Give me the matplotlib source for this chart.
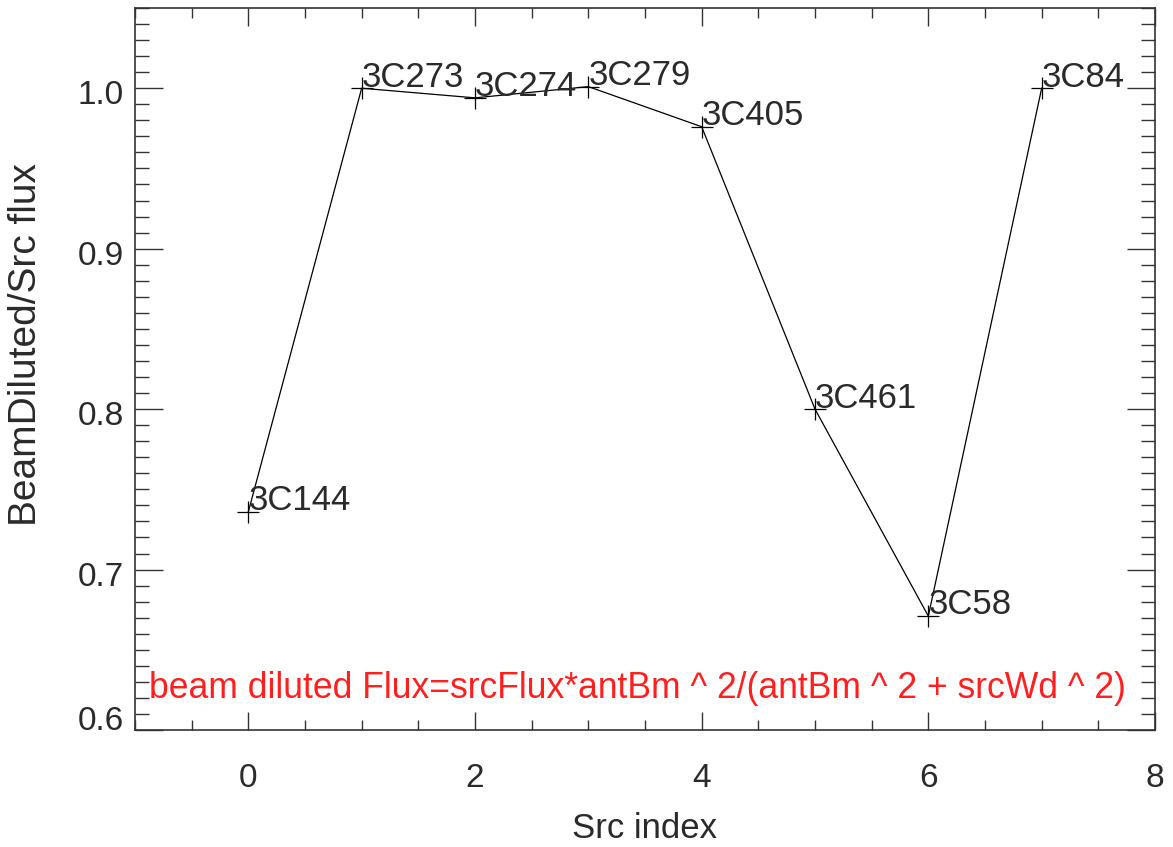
import matplotlib
matplotlib.use("Agg")
import matplotlib.pyplot as plt
import matplotlib.transforms as mtransforms
from matplotlib.ticker import MultipleLocator

plt.rcParams['font.family'] = ['Liberation Sans', 'DejaVu Sans']

src_index = [0, 1, 2, 3, 4, 5, 6, 7]
ratio = [0.736, 1.000, 0.994, 1.001, 0.976, 0.800, 0.671, 1.000]
names = ['3C144', '3C273', '3C274', '3C279', '3C405', '3C461', '3C58', '3C84']
formula = "beam diluted Flux=srcFlux*antBm ^ 2/(antBm ^ 2 + srcWd ^ 2)"
yticks = [0.6, 0.7, 0.8, 0.9, 1.0]
ytick_labels = ['0.6', '0.7', '0.8', '0.9', '1.0']
xticks = [0, 2, 4, 6, 8]
xtick_labels = ['0', '2', '4', '6', '8']

W, H = 1173, 847
fig = plt.figure(figsize=(W/100, H/100), dpi=100)
ax = fig.add_axes([135/W, 1-730/H, (1155-135)/W, (730-8)/H])

tc = '#2a2a2a'
ax.plot(src_index, ratio, color='black', lw=0.9, marker='+', ms=16, mew=0.9)
for x, y, n in zip(src_index, ratio, names):
    ax.text(x, y + 0.001, n, fontsize=25, color=tc, ha='left', va='baseline')

ax.text(-0.88, 0.62, formula, fontsize=25.6, color='#ff1f1f', ha='left', va='baseline')

ax.set_xlim(-1, 8)
ax.set_ylim(0.6, 1.05)
ax.xaxis.set_minor_locator(MultipleLocator(0.5))
ax.yaxis.set_minor_locator(MultipleLocator(0.01))
ax.set_yticks(yticks)
ax.set_yticklabels(ytick_labels)
ax.set_xticks(xticks)
ax.set_xticklabels(xtick_labels)
ax.tick_params(which='both', direction='in', top=True, right=True, color='#333333', width=1.0,
               labelsize=24, labelcolor=tc)
ax.tick_params(axis='x', which='major', length=13, pad=24)
ax.tick_params(axis='x', which='minor', length=7)
ax.tick_params(axis='y', which='major', length=20, pad=8)
ax.tick_params(axis='y', which='minor', length=10)
for s in ax.spines.values():
    s.set_color('#333333')
    s.set_linewidth(1.2)

# shift the bottom y tick label up like the reference
lab0 = ax.get_yticklabels()[0]
lab0.set_transform(lab0.get_transform() + mtransforms.ScaledTranslation(0, 12/100, fig.dpi_scale_trans))
for lab in ax.get_yticklabels()[1:]:
    lab.set_transform(lab.get_transform() + mtransforms.ScaledTranslation(0, -4/100, fig.dpi_scale_trans))

fig.text(645/W, 1-828/H, 'Src index', fontsize=25, color=tc, ha='center', va='center')
fig.text(26/W, 1-345/H, 'BeamDiluted/Src flux', fontsize=28, color=tc, ha='center', va='center', rotation=90)

fig.savefig('out.png', dpi=100)
